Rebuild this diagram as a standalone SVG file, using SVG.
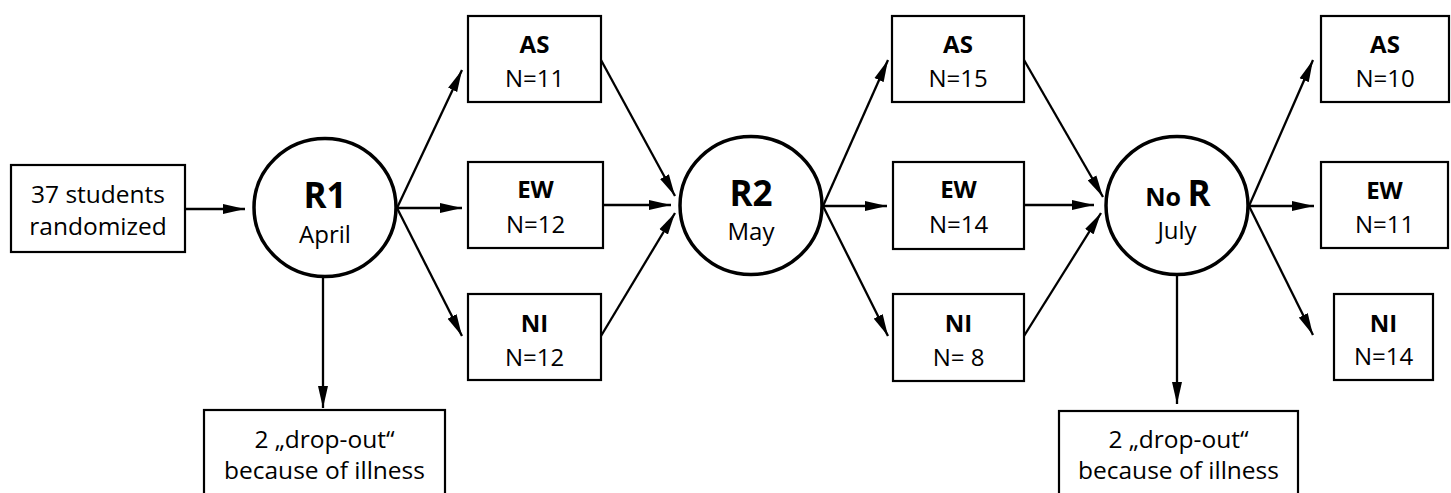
<svg xmlns="http://www.w3.org/2000/svg" width="1451" height="493" viewBox="0 0 1451 493">
  <style>
    .box { fill: #fff; stroke: #000; stroke-width: 2.2; }
    .round { fill: #fff; stroke: #000; stroke-width: 3.5; }
    .t { font-family: "Open Sans", "Liberation Sans", sans-serif; fill: #000; text-anchor: middle; }
    .lbl { font-size: 24px; }
    .grp { font-size: 24px; font-weight: bold; }
    .big { font-size: 35px; font-weight: bold; }
    .note { font-size: 24.5px; }
    .conn line { stroke: #000; stroke-width: 2.3; marker-end: url(#arrow); }
  </style>
  <defs>
    <marker id="arrow" markerUnits="userSpaceOnUse" markerWidth="22" markerHeight="11" refX="22" refY="5.5" orient="auto">
      <path d="M0,0.5 L22,5.5 L0,10.5 Z" fill="#000"/>
    </marker>
  </defs>
  <rect width="1451" height="493" fill="#fff"/>

  <!-- connectors -->
  <g class="conn" id="connectors">
    <line x1="185" y1="209" x2="245" y2="209"/>
    <line x1="397" y1="208" x2="462" y2="70"/>
    <line x1="397" y1="208" x2="462" y2="208"/>
    <line x1="397" y1="208" x2="462" y2="336"/>
    <line x1="323" y1="277" x2="323" y2="408"/>
    <line x1="601" y1="60" x2="675" y2="196"/>
    <line x1="603" y1="205" x2="671" y2="205"/>
    <line x1="601" y1="336" x2="675" y2="213"/>
    <line x1="823" y1="206" x2="888" y2="60"/>
    <line x1="823" y1="206" x2="887" y2="206"/>
    <line x1="823" y1="206" x2="888" y2="336"/>
    <line x1="1024" y1="60" x2="1103" y2="197"/>
    <line x1="1024" y1="205" x2="1094" y2="205"/>
    <line x1="1024" y1="336" x2="1101" y2="213"/>
    <line x1="1249" y1="206" x2="1313" y2="60"/>
    <line x1="1249" y1="206" x2="1314" y2="206"/>
    <line x1="1249" y1="206" x2="1313" y2="335"/>
    <line x1="1177" y1="275" x2="1177" y2="404"/>
  </g>

  <g id="start">
    <rect class="box" x="11" y="165" width="174" height="87"/>
    <text class="t note" x="98" y="203">37 students</text>
    <text class="t note" x="98" y="235">randomized</text>
  </g>

  <g id="r1">
    <ellipse class="round" cx="325" cy="207.5" rx="71" ry="69"/>
    <text class="t big" x="325" y="208">R1</text>
    <text class="t lbl" x="325" y="243">April</text>
  </g>

  <g id="as1">
    <rect class="box" x="468" y="16" width="133" height="86"/>
    <text class="t grp" x="534.5" y="53">AS</text>
    <text class="t lbl" x="534.5" y="87">N=11</text>
  </g>
  <g id="ew1">
    <rect class="box" x="468" y="162" width="135" height="86"/>
    <text class="t grp" x="535.5" y="198">EW</text>
    <text class="t lbl" x="535.5" y="233">N=12</text>
  </g>
  <g id="ni1">
    <rect class="box" x="468" y="294" width="133" height="86"/>
    <text class="t grp" x="534.5" y="332">NI</text>
    <text class="t lbl" x="534.5" y="366">N=12</text>
  </g>

  <g id="r2">
    <ellipse class="round" cx="751" cy="205.5" rx="71" ry="69"/>
    <text class="t big" x="751" y="206">R2</text>
    <text class="t lbl" x="751" y="240">May</text>
  </g>

  <g id="as2">
    <rect class="box" x="892" y="16" width="132" height="86"/>
    <text class="t grp" x="958" y="53">AS</text>
    <text class="t lbl" x="958" y="87">N=15</text>
  </g>
  <g id="ew2">
    <rect class="box" x="893" y="162" width="131" height="87"/>
    <text class="t grp" x="958.5" y="198">EW</text>
    <text class="t lbl" x="958.5" y="233">N=14</text>
  </g>
  <g id="ni2">
    <rect class="box" x="893" y="294" width="131" height="87"/>
    <text class="t grp" x="958.5" y="332">NI</text>
    <text class="t lbl" x="958.5" y="366">N= 8</text>
  </g>

  <g id="nor">
    <ellipse class="round" cx="1177" cy="205.5" rx="71" ry="69"/>
    <text class="t" x="1178" y="206"><tspan style="font-size:25px;font-weight:bold">No </tspan><tspan style="font-size:35px;font-weight:bold">R</tspan></text>
    <text class="t lbl" x="1177" y="239">July</text>
  </g>

  <g id="as3">
    <rect class="box" x="1321" y="16" width="128" height="86"/>
    <text class="t grp" x="1385" y="53">AS</text>
    <text class="t lbl" x="1385" y="87">N=10</text>
  </g>
  <g id="ew3">
    <rect class="box" x="1321" y="162" width="127" height="86"/>
    <text class="t grp" x="1384.5" y="199">EW</text>
    <text class="t lbl" x="1384.5" y="233">N=11</text>
  </g>
  <g id="ni3">
    <rect class="box" x="1334" y="294" width="99" height="86"/>
    <text class="t grp" x="1383.5" y="332">NI</text>
    <text class="t lbl" x="1383.5" y="365">N=14</text>
  </g>

  <g id="drop1">
    <rect class="box" x="204" y="410" width="241" height="95"/>
    <text class="t note" x="324.5" y="448">2 „drop-out“</text>
    <text class="t note" x="324.5" y="479">because of illness</text>
  </g>
  <g id="drop2">
    <rect class="box" x="1059" y="411" width="239" height="95"/>
    <text class="t note" x="1178.5" y="448">2 „drop-out“</text>
    <text class="t note" x="1178.5" y="479">because of illness</text>
  </g>
</svg>
